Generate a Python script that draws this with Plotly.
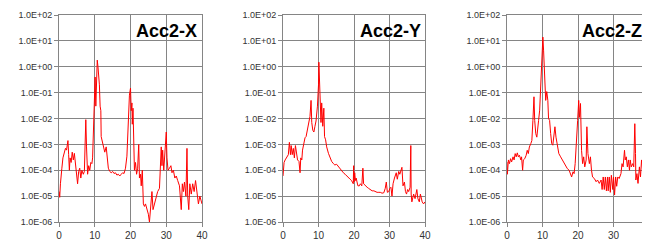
import plotly.graph_objects as go

# ---------------- data ----------------
titles = ["Acc2-X", "Acc2-Y", "Acc2-Z"]
x_ticks = [0, 10, 20, 30, 40]
y_tickvals = [1e-6, 1e-5, 1e-4, 1e-3, 1e-2, 1e-1, 1e0, 1e1, 1e2]
y_ticktext = ["1.0E-06", "1.0E-05", "1.0E-04", "1.0E-03", "1.0E-02",
              "1.0E-01", "1.0E+00", "1.0E+01", "1.0E+02"]

acc_x_f = [0.05, 0.2, 0.4, 0.6, 0.8, 1.1, 1.5, 1.8, 2.1, 2.5, 2.7, 2.9, 3.1, 3.4, 3.7, 4.0, 4.3, 4.6, 4.9,
           5.2, 5.5, 5.8, 6.1, 6.4, 6.8, 7.1, 7.3, 7.5, 7.7, 8.0, 8.3, 8.6, 8.9, 9.2, 9.4, 9.6, 9.9, 10.1,
           10.3, 10.5, 10.7, 10.9, 11.1, 11.3, 11.5, 11.7, 11.8, 12.2, 12.5, 12.8, 13.2, 13.5, 13.8, 14.2,
           14.6, 15.0, 15.4, 15.8, 16.2, 16.6, 17.0, 17.4, 17.8, 18.2, 18.6, 19.0, 19.4, 19.7, 20.0, 20.2,
           20.4, 20.5, 20.7, 20.9, 21.1, 21.4, 21.7, 22.0, 22.3, 22.5, 22.8, 23.0, 23.3, 23.6, 23.9, 24.2,
           24.6, 25.0, 25.3, 25.6, 26.0, 26.3, 26.7, 27.1, 27.6, 28.1, 28.6, 28.8, 29.0, 29.3, 29.7, 30.0,
           30.2, 30.5, 30.9, 31.3, 31.6, 32.0, 32.4, 32.8, 33.2, 33.7, 34.2, 34.5, 34.8, 35.1, 35.5, 35.8,
           36.0, 36.3, 36.6, 37.0, 37.4, 37.8, 38.2, 38.6, 39.0, 39.4, 39.8, 40.0]
acc_x_v = [1.5e-5, 9e-6, 3e-5, 8e-5, 1.2e-4, 3e-4, 5e-4, 7e-4, 6e-4, 1.4e-3, 4e-4, 1e-4, 3e-4, 2e-4, 5e-4,
           2.5e-4, 4.5e-4, 1.5e-4, 1e-4, 3e-5, 9e-5, 1.2e-4, 5e-5, 1e-4, 7e-5, 9e-5, 1e-3, 9e-3, 8e-4,
           7e-5, 1.5e-4, 1e-4, 2e-4, 1.8e-4, 3e-4, 1.5e-3, 2e-2, 4e-1, 3e-2, 1.0, 1.8, 1.0, 0.5, 0.2,
           3e-2, 2e-2, 2e-3, 1e-3, 6e-4, 5e-4, 8e-4, 3e-4, 1.2e-4, 9e-5, 8e-5, 9e-5, 7.5e-5, 8e-5,
           6.5e-5, 7e-5, 6e-5, 7e-5, 8e-5, 7.5e-5, 1.2e-4, 3.5e-4, 8e-3, 8e-2, 0.15, 2e-2, 4e-2, 6e-3,
           2.5e-2, 1e-3, 1e-4, 2e-4, 7e-5, 1.2e-4, 1e-3, 5e-5, 7e-5, 2.5e-5, 1e-4, 5e-6, 4e-6, 5e-6,
           3e-6, 2e-6, 1e-6, 2.5e-6, 1.5e-5, 3e-6, 5e-6, 1e-5, 1.5e-5, 2e-5, 8e-4, 1.5e-4, 6e-4, 1e-4,
           1e-3, 3e-3, 3e-4, 1e-4, 1.2e-4, 1.5e-4, 8e-5, 1e-4, 5e-5, 6e-5, 4e-5, 2.5e-5, 3e-6, 3e-5,
           1.5e-5, 3.5e-5, 1e-5, 7e-4, 1e-5, 3e-6, 3e-5, 1.2e-5, 3e-5, 1.5e-5, 4e-5, 1.2e-5, 5e-6, 1e-5,
           6e-6, 5e-6]

acc_y_f = [0.0, 0.3, 0.6, 1.0, 1.5, 1.8, 2.1, 2.3, 2.6, 2.9, 3.2, 3.5, 3.8, 4.1, 4.5, 4.8, 5.0, 5.3, 5.5,
           5.9, 6.2, 6.5, 6.9, 7.1, 7.6, 7.9, 8.1, 8.4, 8.7, 9.0, 9.3, 9.7, 10.0, 10.1, 10.3, 10.5, 10.7,
           10.9, 11.2, 11.5, 11.7, 12.0, 12.3, 12.8, 13.2, 13.7, 14.2, 14.6, 15.1, 15.6, 16.0, 16.5, 17.0,
           17.5, 17.9, 18.4, 18.9, 19.3, 19.8, 19.9, 20.0, 20.2, 20.4, 20.6, 20.9, 21.1, 21.5, 21.8, 22.2,
           22.5, 22.7, 23.2, 23.7, 24.1, 24.6, 25.1, 25.6, 26.0, 26.5, 27.0, 27.4, 27.9, 28.4, 28.8, 29.1,
           29.4, 29.8, 30.1, 30.4, 30.7, 31.0, 31.4, 31.6, 31.9, 32.2, 32.6, 32.9, 33.2, 33.5, 33.8, 34.2,
           34.5, 34.8, 35.1, 35.4, 35.8, 36.0, 36.1, 36.3, 36.8, 37.2, 37.7, 38.0, 38.4, 38.7, 39.2, 39.6,
           40.0]
acc_y_v = [6e-5, 2e-4, 2.5e-4, 3e-4, 4e-4, 1.2e-3, 4e-4, 9e-4, 4e-4, 7e-4, 3e-4, 9e-4, 3.5e-4, 2.5e-4,
           2.2e-4, 8e-5, 3e-4, 2.5e-4, 6e-4, 1.2e-3, 1.8e-3, 2e-3, 3.5e-3, 6e-3, 1.2e-2, 5e-2, 7e-3,
           3.5e-3, 3e-3, 5e-3, 8e-3, 3e-2, 0.2, 1.5, 0.15, 3e-2, 7e-3, 4e-2, 5e-3, 2.5e-2, 2e-3, 1.5e-3,
           8e-4, 4.5e-4, 3e-4, 2.2e-4, 1.8e-4, 1.6e-4, 1.7e-4, 1.4e-4, 1.1e-4, 1e-4, 8e-5, 7e-5, 6e-5,
           5.5e-5, 4.5e-5, 4e-5, 3e-5, 1.5e-4, 3.5e-5, 8e-5, 4e-5, 5e-5, 3e-5, 2.5e-5, 2.5e-5, 3e-5,
           2.5e-5, 1.2e-4, 3e-5, 2.5e-5, 2.2e-5, 2e-5, 1.8e-5, 1.6e-5, 1.6e-5, 1.5e-5, 1.4e-5, 1.4e-5,
           1.4e-5, 1.3e-5, 1.35e-5, 2e-5, 3.5e-5, 1.4e-5, 1.5e-5, 2e-5, 2.2e-5, 1e-5, 3e-5, 5e-5, 6e-5,
           8e-5, 4.5e-5, 9e-5, 7e-5, 1.1e-4, 1.3e-4, 2.5e-5, 3.5e-5, 1.5e-5, 1.2e-5, 1.8e-5, 1.5e-5,
           2.2e-5, 9e-4, 1.2e-5, 6e-6, 1.2e-5, 8e-6, 1.8e-5, 8e-6, 6e-6, 1.2e-5, 6e-6, 5e-6, 6e-6]

acc_z_f = [0.0, 0.1, 0.4, 0.7, 1.0, 1.3, 1.7, 2.0, 2.3, 2.6, 2.9, 3.2, 3.5, 3.9, 4.1, 4.4, 4.6, 5.0, 5.4,
           5.7, 6.0, 6.3, 6.7, 7.0, 7.3, 7.6, 7.8, 8.1, 8.4, 8.6, 8.9, 9.2, 9.5, 9.8, 10.0, 10.1, 10.3,
           10.5, 10.7, 10.9, 11.2, 11.5, 11.7, 12.0, 12.3, 12.6, 12.9, 13.1, 13.5, 13.8, 14.2, 14.6, 15.1,
           15.6, 16.0, 16.5, 17.0, 17.5, 17.9, 18.2, 18.6, 18.9, 19.2, 19.4, 19.6, 19.9, 20.2, 20.4, 20.7,
           20.8, 21.0, 21.3, 21.6, 21.9, 22.3, 22.5, 22.8, 23.2, 23.5, 23.8, 24.1, 24.6, 25.1, 25.5, 26.0,
           26.5, 26.8, 27.1, 27.4, 27.7, 28.0, 28.3, 28.5, 28.8, 29.1, 29.4, 29.8, 30.0, 30.3, 30.6, 30.9,
           31.2, 31.6, 32.1, 32.4, 32.7, 33.1, 33.3, 33.6, 33.9, 34.2, 34.5, 34.7, 35.0, 35.4, 35.7, 36.0,
           36.2, 36.3, 36.6, 36.9, 37.3, 37.6, 37.9, 38.2, 38.6, 38.9, 39.2, 39.4, 39.7, 40.0]
acc_z_v = [2.1e-4, 7e-5, 2.5e-4, 1.8e-4, 2.8e-4, 2.1e-4, 3.3e-4, 2.5e-4, 4.4e-4, 3.3e-4, 4.7e-4, 3.3e-4,
           3.8e-4, 2.5e-4, 3.3e-4, 1e-4, 2.5e-4, 2.8e-4, 3.8e-4, 5.9e-4, 4.4e-4, 7.9e-4, 1.07e-3, 1.4e-3,
           8.5e-3, 6.9e-2, 8.5e-3, 2.6e-3, 1.9e-3, 4.8e-3, 8.5e-3, 2.1e-2, 0.17, 0.74, 3.2, 14.0, 4.4,
           0.74, 0.12, 5e-2, 0.11, 5e-2, 1e-2, 8.5e-3, 2.6e-3, 1.07e-3, 9.3e-4, 1.7e-3, 4.8e-3, 1.9e-3,
           7.9e-4, 4.4e-4, 3.3e-4, 2.5e-4, 1.8e-4, 1.35e-4, 1.15e-4, 1e-4, 7.4e-5, 5.5e-5, 8.7e-5,
           7.4e-5, 1.8e-4, 4.4e-4, 1.4e-3, 8.5e-3, 5e-2, 1.1e-2, 3.8e-2, 8.5e-3, 5.9e-4, 1.8e-4, 3.3e-4,
           1.35e-4, 2.5e-4, 4.8e-3, 4.4e-4, 1.8e-4, 3.3e-4, 1e-4, 5.5e-5, 4.8e-5, 3.6e-5, 4.2e-5, 3.1e-5,
           4.2e-5, 1.8e-5, 5.5e-5, 1.8e-5, 5.5e-5, 1.6e-5, 5.5e-5, 1.6e-5, 5.5e-5, 1.4e-5, 6.4e-5,
           1.8e-5, 5.5e-5, 1.1e-5, 5.5e-5, 2.4e-5, 5.5e-5, 4.8e-5, 7.4e-5, 1.8e-4, 1.35e-4, 5.9e-4,
           2.5e-4, 3.3e-4, 1.35e-4, 2.5e-4, 1e-4, 2.5e-4, 1.35e-4, 1.8e-4, 1.35e-4, 6.3e-3, 4.4e-4,
           4.2e-5, 7.4e-5, 3.1e-5, 1.35e-4, 5.5e-5, 2.5e-4, 7.4e-5, 3.1e-5, 5.5e-5, 1.35e-4, 3.1e-5,
           2.5e-4, 4.2e-5]

series = [(acc_x_f, acc_x_v), (acc_y_f, acc_y_v), (acc_z_f, acc_z_v)]

# ---------------- layout ----------------
# The page adds an 8 px body margin, so the figure is laid out in a 642x234 box
OFF = 8
W, H = 650 - OFF, 242 - OFF


def px_x(p):
    return (p - OFF) / W


def px_y(p):
    return 1 - (p - OFF) / H


x_domains = [(px_x(59), px_x(202)), (px_x(283), px_x(425)), (px_x(507), px_x(649))]
y_domain = (px_y(222), px_y(15))
title_right = [px_x(199), px_x(423), px_x(644)]
title_y = px_y(31.5)

GRID = "#858585"
FONT = "Liberation Sans, Arial, sans-serif"

fig = go.Figure()
layout = dict(
    width=W, height=H,
    margin=dict(l=0, r=0, t=0, b=0, autoexpand=False),
    paper_bgcolor="white", plot_bgcolor="white",
    showlegend=False,
    font=dict(family=FONT, size=9, color="#333333"),
    annotations=[],
)

for i, ((xs, ys), title) in enumerate(zip(series, titles)):
    n = "" if i == 0 else str(i + 1)
    fig.add_trace(go.Scatter(x=xs, y=ys, mode="lines",
                             line=dict(color="#ff0000", width=1),
                             xaxis="x" + n, yaxis="y" + n,
                             hoverinfo="skip"))
    layout["xaxis" + n] = dict(
        domain=list(x_domains[i]), anchor="y" + n, automargin=False,
        range=[0, 40], tickvals=x_ticks, ticktext=[str(t) for t in x_ticks],
        showgrid=True, gridcolor=GRID, gridwidth=1,
        showline=True, linecolor=GRID, linewidth=1, mirror=True,
        ticks="outside", ticklen=4, tickcolor=GRID,
        tickfont=dict(family=FONT, size=10, color="#333333"),
        ticklabeloverflow="allow",
        zeroline=False, fixedrange=True,
    )
    layout["yaxis" + n] = dict(
        domain=list(y_domain), anchor="x" + n, type="log", automargin=False,
        range=[-6, 2], tickvals=y_tickvals, ticktext=y_ticktext,
        showgrid=True, gridcolor=GRID, gridwidth=1,
        showline=True, linecolor=GRID, linewidth=1, mirror=True,
        ticks="outside", ticklen=4, tickcolor=GRID,
        tickfont=dict(family=FONT, size=9, color="#333333"),
        zeroline=False, fixedrange=True,
    )
    layout["annotations"].append(dict(
        text="<b>" + title + "</b>", xref="paper", yref="paper",
        x=title_right[i], y=title_y, xanchor="right", yanchor="middle",
        showarrow=False, font=dict(family=FONT, size=18, color="black"),
    ))

fig.update_layout(**layout)
fig.write_html("out.html")
